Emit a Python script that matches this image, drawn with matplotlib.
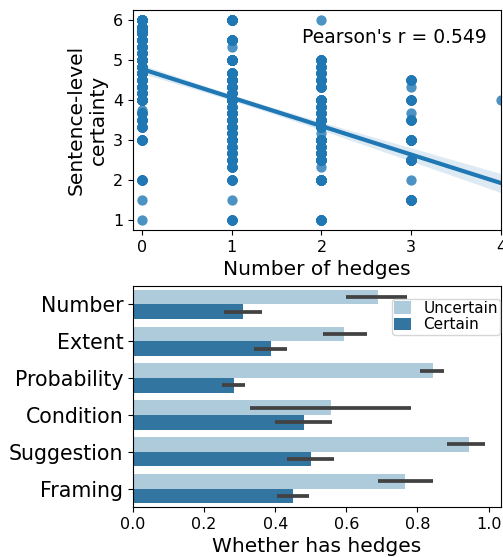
import numpy as np
import matplotlib.pyplot as plt

# sentence-level certainty values per number of hedges, with how many sentences share each value
h0_vals = [6, 5.83, 5.75, 5.67, 5.5, 5.33, 5.17, 5, 4.83, 4.67, 4.5, 4.33, 4.17, 4, 3.75, 3.67, 3.5, 3.33, 3, 2, 1.5, 1]
h0_counts = [42, 9, 6, 12, 18, 12, 9, 42, 9, 15, 12, 12, 9, 21, 1, 6, 9, 6, 9, 6, 1, 1]
h1_vals = [6, 5.5, 5.33, 5, 4.67, 4.5, 4.33, 4.17, 4, 3.83, 3.67, 3.5, 3.33, 3.17, 3, 2.83, 2.67, 2.5, 2.33, 2, 1.5, 1]
h1_counts = [21, 15, 1, 30, 12, 18, 9, 6, 30, 6, 12, 12, 9, 6, 12, 6, 9, 9, 6, 6, 1, 6]
h2_vals = [6, 5, 4.83, 4.67, 4.5, 4.33, 4, 3.83, 3.67, 3.5, 3.33, 3.17, 3, 2.83, 2.67, 2.5, 2.33, 2, 1]
h2_counts = [1, 12, 6, 9, 9, 6, 18, 6, 9, 12, 9, 1, 27, 6, 12, 15, 1, 27, 12]
h3_vals = [4.5, 4.33, 4, 3.67, 3.5, 3, 2.5, 2, 1.5]
h3_counts = [6, 1, 6, 1, 6, 15, 15, 1, 15]
h4_vals = [4]
h4_counts = [1]

categories = ["Number", "Extent", "Probability", "Condition", "Suggestion", "Framing"]
unc_mean = [0.688, 0.593, 0.843, 0.556, 0.944, 0.764]
unc_lo = [0.598, 0.533, 0.808, 0.328, 0.883, 0.688]
unc_hi = [0.772, 0.659, 0.876, 0.782, 0.991, 0.843]
cer_mean = [0.309, 0.388, 0.284, 0.480, 0.500, 0.449]
cer_lo = [0.257, 0.339, 0.249, 0.398, 0.434, 0.404]
cer_hi = [0.362, 0.434, 0.316, 0.559, 0.565, 0.496]

groups = [(0, h0_vals, h0_counts), (1, h1_vals, h1_counts), (2, h2_vals, h2_counts),
          (3, h3_vals, h3_counts), (4, h4_vals, h4_counts)]
x = np.concatenate([np.full(sum(c), h, dtype=float) for h, v, c in groups])
y = np.concatenate([np.repeat(v, c) for h, v, c in groups])

fig = plt.figure(figsize=(5.03, 5.57), dpi=100)
ax1 = fig.add_axes([133 / 503, 1 - 230 / 557, 368 / 503, 220 / 557])
ax2 = fig.add_axes([133 / 503, 1 - 507 / 557, 368 / 503, 221 / 557])

# regression panel
blue = "#1f77b4"
ax1.scatter(x, y, s=55, color=blue, alpha=0.8, linewidths=0)
slope, intercept = np.polyfit(x, y, 1)
grid = np.linspace(x.min(), x.max(), 100)
pred = intercept + slope * grid
resid = y - (intercept + slope * x)
n = len(x)
s = np.sqrt(np.sum(resid ** 2) / (n - 2))
sxx = np.sum((x - x.mean()) ** 2)
se = s * np.sqrt(1 / n + (grid - x.mean()) ** 2 / sxx)
ax1.fill_between(grid, pred - 1.96 * se, pred + 1.96 * se, color=blue, alpha=0.15, linewidth=0)
ax1.plot(grid, pred, color=blue, lw=3)
ax1.set_xlim(-0.1, 4.0)
ax1.set_ylim(0.75, 6.25)
ax1.set_xticks([0, 1, 2, 3, 4])
ax1.set_yticks([1, 2, 3, 4, 5, 6])
ax1.tick_params(labelsize=11.5)
ax1.set_xlabel("Number of hedges", fontsize=14.5)
ax1.set_ylabel("Sentence-level\ncertainty", fontsize=14.5)
ax1.text(0.96, 0.873, "Pearson's r = 0.549", transform=ax1.transAxes,
         ha="right", va="center", fontsize=13.5)

# bar panel
light = "#aecbdb"
dark = "#3275a1"
pos = np.arange(len(categories))
ax2.barh(pos - 0.2, unc_mean, height=0.4, color=light, label="Uncertain")
ax2.barh(pos + 0.2, cer_mean, height=0.4, color=dark, label="Certain")
ax2.hlines(pos - 0.2, unc_lo, unc_hi, color="#424242", lw=2.7)
ax2.hlines(pos + 0.2, cer_lo, cer_hi, color="#424242", lw=2.7)
ax2.set_ylim(5.5, -0.5)
ax2.set_xlim(0, 1.035)
ax2.set_yticks(pos)
ax2.set_yticklabels(categories, fontsize=14.8)
ax2.set_xticks([0, 0.2, 0.4, 0.6, 0.8, 1.0])
ax2.tick_params(axis="x", labelsize=11.5)
ax2.set_xlabel("Whether has hedges", fontsize=14.5)
ax2.legend(loc="upper right", bbox_to_anchor=(0.998, 0.943), borderaxespad=0, fontsize=11,
           borderpad=0.15, labelspacing=0.1, handlelength=1.1, handleheight=0.9,
           handletextpad=0.8)

fig.savefig("out.png", dpi=100)
